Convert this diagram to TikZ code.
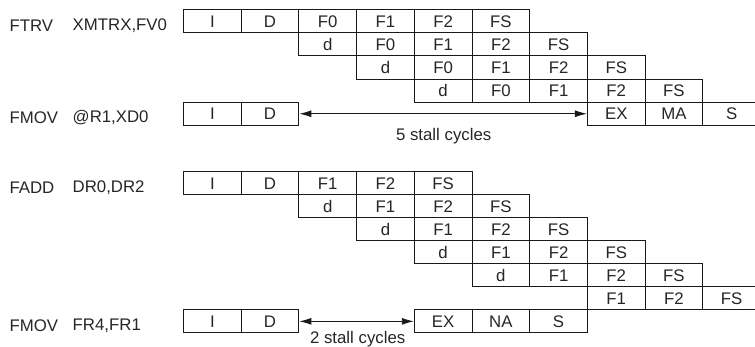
\documentclass[tikz,border=0pt]{standalone}
\usepackage{fontspec}
\setmainfont{Liberation Sans}
\usetikzlibrary{arrows.meta}
\begin{document}
\begin{tikzpicture}[x=1pt,y=-1pt,
  txt/.style={font=\fontsize{16.8}{19}\selectfont, text=black!85},
  cell/.style={txt, draw=black!90, line width=1pt, minimum width=57.7pt, minimum height=23.1pt,
    inner sep=0pt, anchor=north west},
  lbl/.style={txt, anchor=west, inner sep=0pt},
  stallarrow/.style={{Latex[length=12pt,width=7pt]}-{Latex[length=12pt,width=7pt]}, line width=0.9pt, draw=black!90},
  note/.style={txt, inner sep=0pt}]
\useasboundingbox (0,0) rectangle (755,347);
\clip (0,0) rectangle (755,347);
% ---------- top group ----------
\node[lbl] (m1) at (9.3,25.5) {FTRV};
\node[lbl] (o1) at (72.5,25.5) {XMTRX,FV0};
\node[lbl] (m2) at (9.3,117.5) {FMOV};
\node[lbl] (o2) at (72.5,117.5) {@R1,XD0};
\foreach \lab [count=\c from 0] in {I,D,F0,F1,F2,FS}
  \node[cell] (a0-\c) at ({183+57.7*\c},9.3) {\lab};
\foreach \lab [count=\c from 2] in {d,F0,F1,F2,FS}
  \node[cell] (a1-\c) at ({183+57.7*\c},32.4) {\lab};
\foreach \lab [count=\c from 3] in {d,F0,F1,F2,FS}
  \node[cell] (a2-\c) at ({183+57.7*\c},55.5) {\lab};
\foreach \lab [count=\c from 4] in {d,F0,F1,F2,FS}
  \node[cell] (a3-\c) at ({183+57.7*\c},78.6) {\lab};
\foreach \lab [count=\c from 0] in {I,D}
  \node[cell] (a4-\c) at ({183+57.7*\c},101.7) {\lab};
\foreach \lab [count=\c from 7] in {EX,MA,S}
  \node[cell] (a4-\c) at ({183+57.7*\c},101.7) {\lab};
\draw[stallarrow] (a4-1.east) -- (a4-7.west);
\node[note] (s1) at (443.7,136.5) {5 stall cycles};
% ---------- bottom group ----------
\node[lbl] (m3) at (9.3,187.5) {FADD};
\node[lbl] (o3) at (72.5,187.5) {DR0,DR2};
\node[lbl] (m4) at (9.3,325.5) {FMOV};
\node[lbl] (o4) at (72.5,325.5) {FR4,FR1};
\foreach \lab [count=\c from 0] in {I,D,F1,F2,FS}
  \node[cell] (b0-\c) at ({183+57.7*\c},171.3) {\lab};
\foreach \lab [count=\c from 2] in {d,F1,F2,FS}
  \node[cell] (b1-\c) at ({183+57.7*\c},194.3) {\lab};
\foreach \lab [count=\c from 3] in {d,F1,F2,FS}
  \node[cell] (b2-\c) at ({183+57.7*\c},217.3) {\lab};
\foreach \lab [count=\c from 4] in {d,F1,F2,FS}
  \node[cell] (b3-\c) at ({183+57.7*\c},240.3) {\lab};
\foreach \lab [count=\c from 5] in {d,F1,F2,FS}
  \node[cell] (b4-\c) at ({183+57.7*\c},263.3) {\lab};
\foreach \lab [count=\c from 7] in {F1,F2,FS}
  \node[cell] (b5-\c) at ({183+57.7*\c},286.3) {\lab};
\foreach \lab [count=\c from 0] in {I,D}
  \node[cell] (b6-\c) at ({183+57.7*\c},309.3) {\lab};
\foreach \lab [count=\c from 4] in {EX,NA,S}
  \node[cell] (b6-\c) at ({183+57.7*\c},309.3) {\lab};
\draw[stallarrow] (b6-1.east) -- (b6-4.west);
\node[note] (s2) at (357.7,339) {2 stall cycles};
\end{tikzpicture}
\end{document}
